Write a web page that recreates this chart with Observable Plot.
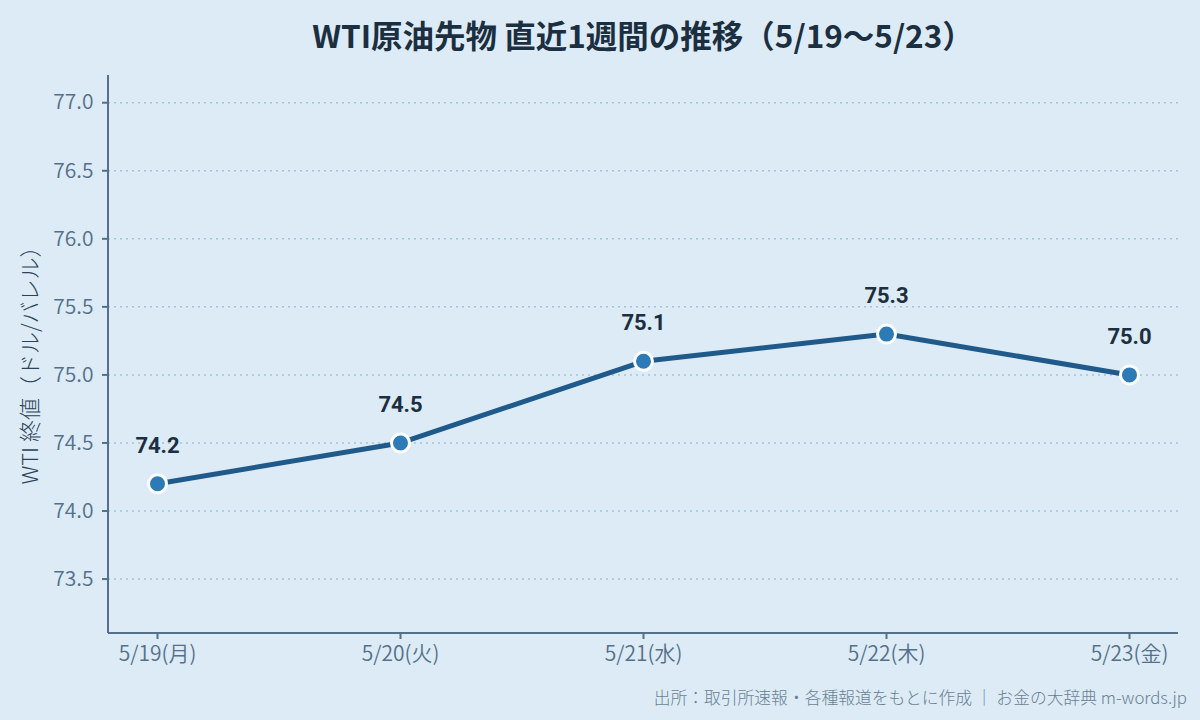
<!DOCTYPE html>
<html><head><meta charset="utf-8">
<script src="https://cdn.jsdelivr.net/npm/d3@7"></script>
<script src="https://cdn.jsdelivr.net/npm/@observablehq/plot@0.6"></script>
<style>
body{margin:0;background:#dcebf6;width:1200px;height:720px;overflow:hidden;font-family:"Noto Sans CJK JP",sans-serif;}
#title{position:absolute;left:108px;top:0;width:1070px;height:68px;line-height:68px;text-align:center;font-size:31.5px;font-weight:bold;color:#1b2f40;font-family:"Noto Sans CJK JP",sans-serif;white-space:nowrap;}
#chart{position:absolute;left:0;top:60px;}
#caption{position:absolute;right:13px;top:685px;font-size:16.8px;font-weight:300;color:#6a7f93;font-family:"Noto Sans CJK JP",sans-serif;white-space:nowrap;}
svg g[aria-label$="tick label"] text{font-size:21px !important;font-weight:350;}
</style></head>
<body>
<div id="title">WTI原油先物 直近1週間の推移（5/19〜5/23）</div>
<div id="chart"></div>
<div id="caption">出所：取引所速報・各種報道をもとに作成 ｜ お金の大辞典 m-words.jp</div>
<script>
const dates = ["5/19(月)","5/20(火)","5/21(水)","5/22(木)","5/23(金)"];
const prices = [74.2, 74.5, 75.1, 75.3, 75.0];
const yTicks = [73.5, 74.0, 74.5, 75.0, 75.5, 76.0, 76.5, 77.0];

const data = dates.map((d,i)=>({date:d, price:prices[i]}));

const plot = Plot.plot({
  width:1200, height:620,
  marginTop:15, marginBottom:47, marginLeft:108, marginRight:22,
  style:{background:"transparent", fontFamily:'"Noto Sans CJK JP",sans-serif'},
  x:{type:"point", domain:dates, padding:0.2, label:null},
  y:{domain:[73.1,77.2], label:null},
  marks:[
    Plot.gridY(yTicks,{stroke:"#9cc6de", strokeOpacity:1, strokeWidth:1.5, strokeDasharray:"2,4"}),
    Plot.axisY({ticks:yTicks, tickFormat:d=>d.toFixed(1), tickSize:6, tickPadding:9, fontSize:21, color:"#54708a", stroke:"#54708a", strokeWidth:2, label:null}),
    Plot.axisX({tickSize:6, tickPadding:7, fontSize:21, color:"#54708a", stroke:"#54708a", strokeWidth:2, label:null}),
    Plot.line(data,{x:"date", y:"price", stroke:"#1f5a8a", strokeWidth:5}),
    Plot.dot(data,{x:"date", y:"price", r:9, fill:"#2c7bb6", stroke:"white", strokeWidth:3}),
    Plot.text(data,{x:"date", y:"price", text:d=>d.price.toFixed(1), dy:-38, fontSize:22, fontWeight:"bold", fill:"#1b2f40", fontFamily:'Roboto,sans-serif'})
  ]
});
document.getElementById("chart").appendChild(plot);

const svg = d3.select(plot);
svg.append("line").attr("x1",108).attr("x2",108).attr("y1",15).attr("y2",573).attr("stroke","#54708a").attr("stroke-width",2);
svg.append("line").attr("x1",108).attr("x2",1178).attr("y1",573).attr("y2",573).attr("stroke","#54708a").attr("stroke-width",2);
svg.append("text").attr("transform","translate(32,300) rotate(-90)").attr("text-anchor","middle").attr("dominant-baseline","middle")
  .attr("font-size",22).attr("font-weight",300).attr("fill","#2d4256").attr("font-family",'"Noto Sans CJK JP",sans-serif').text("WTI 終値（ドル/バレル）");
</script>
</body></html>
